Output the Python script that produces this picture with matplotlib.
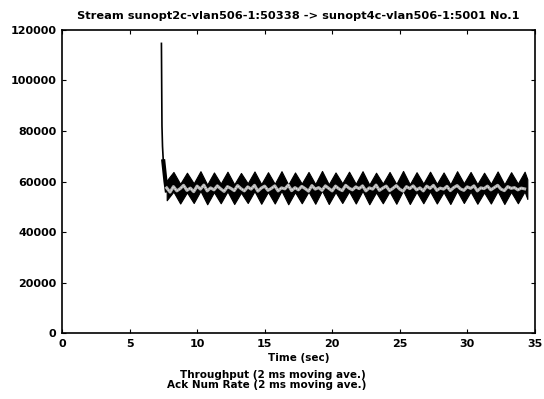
import numpy as np
import matplotlib.pyplot as plt

# Throughput start-up transient (time, value)
start_t = [7.36, 7.38, 7.40, 7.44, 7.50, 7.58, 7.66, 7.75]
start_v = [115000, 98000, 82000, 74000, 68000, 64000, 60000, 56500]

# Throughput saw-tooth (centre of the noisy band): peaks and troughs, one tooth per second
peak_t = np.arange(8.25, 34.3, 1.0)
peak_v = [59900, 59600, 60200, 59700, 60000, 59500, 60100, 59800, 60200, 59700,
          59900, 60300, 59700, 60000, 60200, 59600, 59900, 60300, 59800, 60000,
          59700, 60200, 59900, 59600, 60100, 59800, 60000]
trough_t = np.arange(8.75, 34.3, 1.0)
trough_v = [55200, 55400, 54900, 55300, 55000, 55400, 55100, 55200, 54900, 55300,
            55100, 55000, 55400, 55200, 54900, 55300, 55100, 55000, 55300, 55200,
            55000, 55400, 55100, 55200, 55000, 55300]
end_t = [34.45]
end_v = [57000]
band_half = 3900   # half thickness of the noisy throughput band

# Ack number rate, sampled every 0.25 s
ack_t = np.arange(7.75, 34.45, 0.25)
ack_v = [57500, 55800, 58000, 56300, 57200, 58500, 56500, 57400, 56000, 58200,
         57000, 58600, 56300, 57500, 56700, 58300, 57100, 56100, 58000, 57300,
         56400, 58400, 57200, 56300, 57900, 57000, 58500, 56200, 57400, 58200,
         56500, 57300, 58300, 56300, 57500, 57100, 58600, 56400, 57600, 56700,
         58100, 57200, 56200, 58400, 57000, 57600, 56500, 58300, 57300, 56300,
         58200, 57100, 56400, 58500, 57400, 56700, 57900, 57200, 58300, 56300,
         57500, 57000, 58600, 56500, 57400, 58200, 56400, 57300, 58400, 57000,
         56200, 58000, 57200, 58300, 56700, 57500, 56300, 58200, 57300, 58500,
         56500, 57400, 57000, 58100, 56400, 57600, 58400, 57100, 56500, 57900,
         57300, 58300, 56300, 57500, 57200, 58200, 56700, 57600, 58500, 57000,
         56400, 58000, 57300, 57600, 56700, 57400, 57100]

# interleave peaks and troughs
zig_t = []
zig_v = []
for i in range(len(peak_t)):
    zig_t.append(peak_t[i])
    zig_v.append(peak_v[i])
    if i < len(trough_t):
        zig_t.append(trough_t[i])
        zig_v.append(trough_v[i])
zig_t = np.array([start_t[-1]] + zig_t + end_t)
zig_v = np.array([start_v[-1]] + zig_v + end_v)

fig = plt.figure(figsize=(5.44, 3.99), dpi=100)
ax = fig.add_axes([0.114, 0.165, 0.869, 0.76])

ax.plot(start_t, start_v, color='black', lw=1.2, solid_capstyle='butt')
ax.plot(start_t[4:], start_v[4:], color='black', lw=3)
ax.fill_between(zig_t, zig_v - band_half, zig_v + band_half, color='black', lw=0.8, edgecolor='black')
ax.plot(ack_t[:len(ack_v)], ack_v, color='#b4b4b4', lw=2.2)
ax.plot(ack_t[:len(ack_v)], ack_v, color='white', lw=0.6, ls=(0, (1, 2)))

ax.set_xlim(0, 35)
ax.set_ylim(0, 120000)
ax.set_xticks([0, 5, 10, 15, 20, 25, 30, 35])
ax.set_yticks([0, 20000, 40000, 60000, 80000, 100000, 120000])
ax.tick_params(direction='in', length=3, top=True, right=True, labelsize=8, pad=4)
for lab in ax.get_xticklabels() + ax.get_yticklabels():
    lab.set_fontweight('bold')
for s in ax.spines.values():
    s.set_linewidth(1.2)

ax.set_title("Stream sunopt2c-vlan506-1:50338 -> sunopt4c-vlan506-1:5001 No.1",
             fontsize=8.2, fontweight='bold', pad=8)
ax.set_xlabel("Time (sec)", fontsize=7.5, fontweight='bold', labelpad=3)

fig.text(0.673, 0.052, "Throughput (2 ms moving ave.)", ha='right', fontsize=7.5, fontweight='bold')
fig.text(0.673, 0.028, "Ack Num Rate (2 ms moving ave.)", ha='right', fontsize=7.5, fontweight='bold')

fig.savefig("out.png", dpi=100)
